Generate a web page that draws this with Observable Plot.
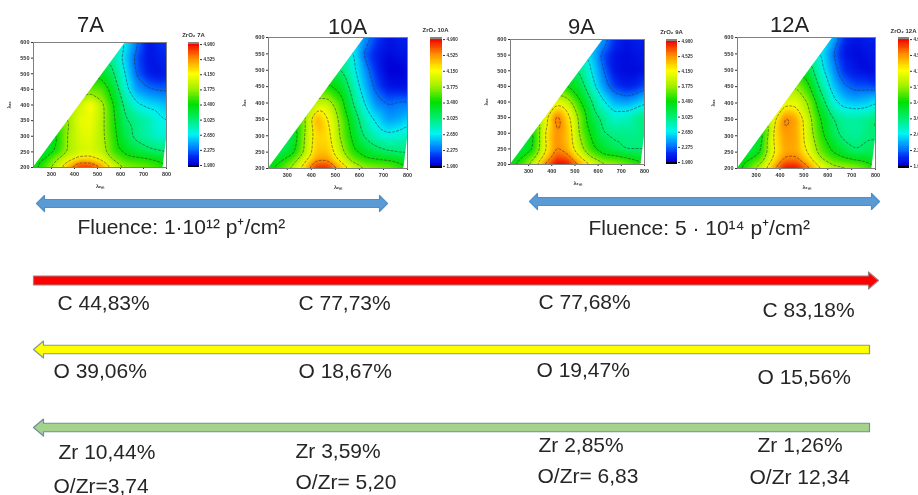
<!DOCTYPE html>
<html><head><meta charset="utf-8">
<script src="https://cdn.jsdelivr.net/npm/d3@7"></script>
<script src="https://cdn.jsdelivr.net/npm/@observablehq/plot@0.6"></script>
<style>
html,body{margin:0;padding:0;background:#fff}
#page{position:relative;width:918px;height:495px;overflow:hidden;background:#fff}
#page svg{position:absolute;overflow:hidden}
.soft{filter:blur(.45px)}
.softer{filter:blur(.25px)}
</style></head><body><div id="page"></div>
<script>
// Excitation rows and emission columns of the PL maps (nm)
const emCols = [220,270,320,370,420,470,520,570,620,670,720,770,800];
const exRows = [200,225,250,300,350,400,450,500,550,600];
const emTicks = [300,400,500,600,700,800];
const exTicks = [200,250,300,350,400,450,500,550,600];
const barTicks = [1.9,2.275,2.65,3.025,3.4,3.775,4.15,4.525,4.9];
const contourLevels = [2.275,2.65,3.025,3.4,3.775,4.15,4.525];
const colorStops = [1.9,2.1,2.275,2.65,3.025,3.4,3.775,4.15,4.525,4.9];
const colorRange = ["#0000d8","#0028f0","#0070ff","#00f4f4","#00ee70","#00e000","#a0f000","#ffff00","#ff9000","#f00000"];

// Intensity per excitation row; each row is aligned on the right of emCols
const z7A = [
 [3.3,3.6,3.95,4.45,4.85,4.85,4.55,4.05,3.75,3.7,3.65,3.55,3.4],
 [3.4,3.75,4.05,4.3,4.3,4.1,3.75,3.55,3.5,3.45,3.35,3.25],
 [3.2,3.45,3.8,3.95,4.0,3.9,3.55,3.35,3.2,3.1,3.05,3.0],
 [3.35,3.8,4.0,4.05,3.85,3.5,3.15,2.95,2.85,2.75,2.75],
 [3.75,4.05,4.1,3.85,3.45,3.05,2.95,2.85,2.7,2.65],
 [3.95,4.18,3.85,3.4,2.95,2.7,2.6,2.55,2.5],
 [3.65,3.6,3.25,2.75,2.4,2.3,2.25,2.25],
 [3.3,3.05,2.65,2.25,2.05,2.0,2.05],
 [2.9,2.55,2.2,2.0,2.05,2.1],
 [2.65,2.3,2.0,2.1,2.15]];
const z10A = [
 [3.3,3.55,3.85,4.3,4.85,4.85,4.45,4.05,3.8,3.75,3.7,3.55,3.4],
 [3.35,3.6,4.05,4.5,4.5,4.1,3.7,3.5,3.45,3.4,3.3,3.2],
 [3.1,3.3,3.8,4.35,4.35,3.9,3.5,3.3,3.15,3.05,3.0,3.0],
 [3.15,3.75,4.3,4.25,3.75,3.35,3.0,2.8,2.7,2.75,2.8],
 [3.7,4.45,4.15,3.7,3.25,2.85,2.6,2.4,2.45,2.55],
 [3.9,3.9,3.55,3.05,2.65,2.35,2.25,2.3,2.3],
 [3.45,3.3,2.9,2.5,2.2,2.0,1.98,2.0],
 [3.05,2.75,2.4,2.1,1.9,1.9,1.95],
 [2.7,2.25,2.05,1.95,2.0,2.0],
 [2.4,2.15,2.0,2.05,2.05]];
const z9A = [
 [3.3,3.55,3.95,4.6,4.95,4.9,4.5,4.15,3.85,3.8,3.7,3.55,3.4],
 [3.35,3.65,4.25,4.7,4.6,4.15,3.75,3.5,3.45,3.35,3.25,3.15],
 [3.15,3.4,4.1,4.55,4.4,3.9,3.5,3.25,3.1,3.0,3.0,3.0],
 [3.35,4.15,4.55,4.35,3.75,3.35,3.05,2.95,2.95,2.95,3.0],
 [4.0,4.65,4.25,3.7,3.2,2.95,2.75,2.8,2.95,3.0],
 [4.05,3.9,3.45,3.05,2.7,2.45,2.4,2.5,2.6],
 [3.4,3.2,2.8,2.4,2.15,2.05,2.1,2.2],
 [3.0,2.65,2.3,2.0,1.95,1.95,2.0],
 [2.55,2.2,2.0,1.95,2.0,2.0],
 [2.4,2.1,2.0,2.05,2.05]];
const z12A = [
 [3.3,3.6,3.95,4.45,4.9,4.9,4.6,4.2,3.9,3.85,3.8,3.6,3.4],
 [3.4,3.65,4.2,4.6,4.6,4.3,3.85,3.6,3.5,3.4,3.3,3.2],
 [3.15,3.4,4.1,4.45,4.45,4.1,3.65,3.4,3.2,3.05,3.1,3.1],
 [3.25,4.15,4.5,4.45,3.95,3.5,3.15,2.95,2.9,3.0,3.0],
 [4.0,4.6,4.45,3.9,3.4,3.05,2.9,2.9,2.95,3.05],
 [4.05,4.05,3.75,3.2,2.75,2.55,2.5,2.55,2.65],
 [3.75,3.45,2.95,2.55,2.3,2.2,2.2,2.15],
 [3.2,2.75,2.4,2.1,2.0,1.95,1.98],
 [2.65,2.3,2.0,1.95,2.0,2.0],
 [2.5,2.1,2.0,2.05,2.05]];

// White areas outside the measured region of each map
const maskUpper = [{em:222,lo:200,hi:600},{em:622,lo:600,hi:600}];
const maskLower = [{em:785,lo:200,hi:200},{em:800,lo:290,hi:200}];

const panels = [
 {name:"7A",  z:z7A,  l:33,  r:166, t:42, b:167, bl:188, br:199},
 {name:"10A", z:z10A, l:268, r:407, t:37, b:168, bl:430, br:442},
 {name:"9A",  z:z9A,  l:510, r:644, t:39, b:164, bl:666, br:677},
 {name:"12A", z:z12A, l:737, r:875, t:37, b:168, bl:898, br:909}
];
const panelTitles = [
 {t:"7A",x:90,y:31},{t:"10A",x:347,y:33},{t:"9A",x:581,y:33},{t:"12A",x:789,y:31}
];
const barTitles = [
 {t:"ZrO₂ 7A",x:193,y:36},{t:"ZrO₂ 10A",x:435,y:31},{t:"ZrO₂ 9A",x:671,y:33},{t:"ZrO₂ 12A",x:903,y:32}
];
const arrows = [
 {x1:36,x2:387,y:203,h:8,hw:16,hl:8,heads:"both",fill:"#5b9bd5",stroke:"#4f8fc8"},
 {x1:529,x2:879,y:201,h:8,hw:16,hl:8,heads:"both",fill:"#5b9bd5",stroke:"#4f8fc8"},
 {x1:33,x2:878,y:280,h:9,hw:17,hl:10,heads:"end",fill:"#ff0000",stroke:"#a08088"},
 {x1:33,x2:869,y:349,h:8.5,hw:17,hl:10,heads:"start",fill:"#ffff00",stroke:"#7f9a98"},
 {x1:33,x2:869,y:427,h:8.5,hw:17,hl:10,heads:"start",fill:"#a5d38e",stroke:"#6f8f9c"}
];
const labels = [
 {t:"Fluence: 1·10¹² p⁺/cm²",x:77,y:233},{t:"Fluence: 5 · 10¹⁴ p⁺/cm²",x:588,y:234},
 {t:"C 44,83%",x:57,y:309},{t:"C 77,73%",x:298,y:309},{t:"C 77,68%",x:538,y:308},{t:"C 83,18%",x:762,y:316},
 {t:"O 39,06%",x:53,y:377},{t:"O 18,67%",x:298,y:377},{t:"O 19,47%",x:536,y:376},{t:"O 15,56%",x:757,y:383},
 {t:"Zr 10,44%",x:58,y:458},{t:"Zr 3,59%",x:295,y:457},{t:"Zr 2,85%",x:538,y:451},{t:"Zr 1,26%",x:757,y:451},
 {t:"O/Zr=3,74",x:53,y:492},{t:"O/Zr= 5,20",x:295,y:488},{t:"O/Zr= 6,83",x:537,y:482},{t:"O/Zr 12,34",x:749,y:483}
];

const page = document.getElementById("page");
const color = {type:"linear",domain:colorStops,range:colorRange,clamp:true,interpolate:"rgb"};
const font = "'Liberation Sans',Arial,sans-serif";
function place(svg,left,top,cls){svg.style.left=left+"px";svg.style.top=top+"px";if(cls)svg.classList.add(cls);page.appendChild(svg);}

function outline(a,i){
  const left=a.heads!=="end", right=a.heads!=="start", s=a.h/2, w=a.hw/2;
  const p=[];
  if(left){p.push([a.x1+a.hl,a.y-s],[a.x1+a.hl,a.y-w],[a.x1,a.y],[a.x1+a.hl,a.y+w],[a.x1+a.hl,a.y+s]);}
  else{p.push([a.x1,a.y-s],[a.x1,a.y+s]);}
  if(right){p.push([a.x2-a.hl,a.y+s],[a.x2-a.hl,a.y+w],[a.x2,a.y],[a.x2-a.hl,a.y-w],[a.x2-a.hl,a.y-s]);}
  else{p.push([a.x2,a.y+s],[a.x2,a.y-s]);}
  p.push(p[0]);
  return p.map(([x,y])=>({x,y,id:i,fill:a.fill,stroke:a.stroke}));
}

// Overlay: arrows and all the annotation text
place(Plot.plot({
  width:918,height:495,margin:0,
  x:{domain:[0,918],axis:null},y:{domain:[495,0],axis:null},
  style:{background:"transparent",fontFamily:font},
  marks:[
    Plot.line(arrows.flatMap(outline),{x:"x",y:"y",z:"id",fill:"fill",stroke:"stroke",strokeWidth:1.2,curve:"linear"}),
    Plot.text(labels,{x:"x",y:"y",text:"t",textAnchor:"start",lineAnchor:"bottom",fontSize:21,fill:"#262626"}),
    Plot.text(panelTitles,{x:"x",y:"y",text:"t",textAnchor:"middle",lineAnchor:"bottom",fontSize:22,fill:"#222"}),
    Plot.text(barTitles,{x:"x",y:"y",text:"t",textAnchor:"middle",lineAnchor:"bottom",fontSize:6,fontWeight:"bold",fill:"#333"})
  ]
}),0,0,"softer");

const ramp = d3.range(1.9,4.9,0.02);
for(const p of panels){
  const pts=[];
  p.z.forEach((row,i)=>row.forEach((v,k)=>pts.push({em:emCols[emCols.length-row.length+k],ex:exRows[i],v})));
  // Carry each edge reading past the frame so the contours do not close along the map's edge
  const pad=[];
  p.z.forEach((row,i)=>{
    const first=emCols[emCols.length-row.length];
    pad.push({em:first-90,ex:exRows[i],v:row[0]},{em:860,ex:exRows[i],v:row[row.length-1]});
  });
  for(const q of pts){ if(q.ex===200) pad.push({em:q.em,ex:150,v:q.v}); if(q.ex===600) pad.push({em:q.em,ex:650,v:q.v}); }
  pad.push({em:100,ex:150,v:p.z[0][0]},{em:860,ex:150,v:p.z[0][12]},{em:100,ex:650,v:p.z[9][0]},{em:860,ex:650,v:p.z[9][4]});
  const all=pts.concat(pad);
  const mL=30,mR=5,mT=5,mB=25;
  const svg=Plot.plot({
    width:p.r-p.l+mL+mR,height:p.b-p.t+mT+mB,
    marginLeft:mL,marginRight:mR,marginTop:mT,marginBottom:mB,
    x:{domain:[222,800]},y:{domain:[200,600]},color,
    style:{background:"transparent",fontFamily:font,fontSize:"5.5px",fontWeight:"bold",color:"#333"},
    marks:[
      Plot.raster(all,{x:"em",y:"ex",fill:"v",interpolate:"barycentric",pixelSize:1,blur:2}),
      Plot.contour(all,{x:"em",y:"ex",value:"v",interpolate:"barycentric",pixelSize:1,blur:2,thresholds:contourLevels,fill:"none",stroke:"#2a2a2a",strokeWidth:.7,strokeOpacity:.75,strokeDasharray:"3,1.2"}),
      Plot.areaY(maskUpper,{x:"em",y1:"lo",y2:"hi",fill:"#fff"}),
      Plot.areaY(maskLower,{x:"em",y1:"lo",y2:"hi",fill:"#fff"}),
      Plot.axisX({ticks:emTicks,tickSize:2,tickPadding:3,fontSize:5.5,label:"λₑₘ",labelAnchor:"center",labelArrow:"none",labelOffset:20}),
      Plot.axisY({ticks:exTicks,tickSize:2,tickPadding:2,fontSize:5.5,label:"λₑₓ",labelAnchor:"center",labelArrow:"none",labelOffset:26}),
      Plot.frame({stroke:"#808080",strokeWidth:1})
    ]
  });
  place(svg,p.l-mL,p.t-mT,"soft");

  const bar=Plot.plot({
    width:p.br-p.bl+24,height:p.b-p.t+2,marginLeft:0,marginRight:24,marginTop:1,marginBottom:1,
    x:{domain:[0,1],axis:null},y:{domain:[1.85,4.95]},color,
    style:{background:"transparent",fontFamily:font,fontWeight:"bold",color:"#333"},
    marks:[
      Plot.rect(ramp,{x1:0,x2:1,y1:d=>d,y2:d=>d+0.03,fill:d=>d,shapeRendering:"crispEdges"}),
      Plot.rect([4.9],{x1:0,x2:1,y1:d=>d,y2:4.95,fill:"#8c8080"}),
      Plot.rect([1.85],{x1:0,x2:1,y1:d=>d,y2:1.9,fill:"#000"}),
      Plot.axisY({anchor:"right",ticks:barTicks,tickFormat:".3f",tickSize:2,tickPadding:2,fontSize:4.5,label:null})
    ]
  });
  place(bar,p.bl,p.t-1,"soft");
}
</script></body></html>
